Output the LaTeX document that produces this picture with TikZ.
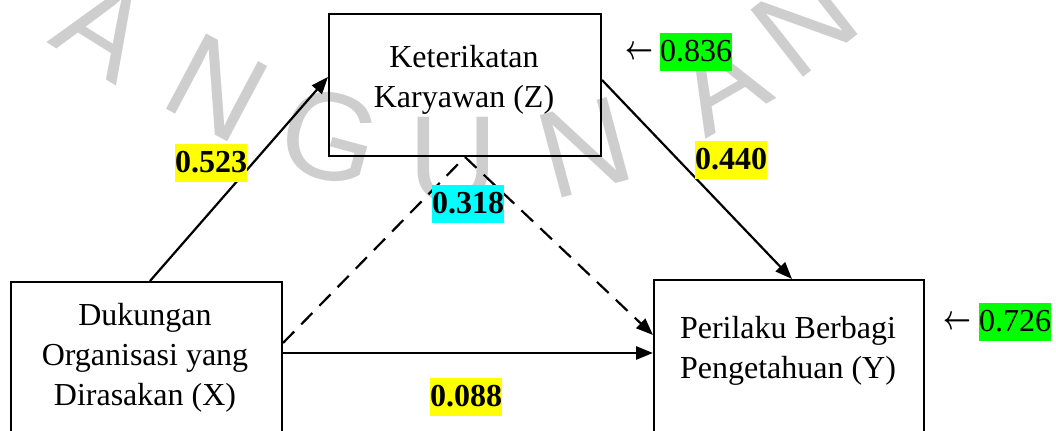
\documentclass[tikz,border=0pt]{standalone}
\usepackage{fontspec}
\setmainfont{Liberation Serif}
\newfontfamily\wmfont{Liberation Sans}
\usetikzlibrary{arrows.meta,calc}
\definecolor{hlyellow}{RGB}{255,255,0}
\definecolor{hlgreen}{RGB}{0,255,0}
\definecolor{hlcyan}{RGB}{0,255,255}
\definecolor{wmgray}{RGB}{206,206,206}
\begin{document}
\begin{tikzpicture}[x=0.5pt,y=-0.5pt,
  box/.style={draw,line width=1pt,inner sep=0pt,anchor=north west},
  vartext/.style={align=center,font=\fontsize{16pt}{20pt}\selectfont,inner sep=0pt},
  coef/.style={font=\fontsize{16pt}{20pt}\selectfont\bfseries,inner sep=0pt,text height=14.5pt,text depth=4.5pt},
  resid/.style={font=\fontsize{16pt}{20pt}\selectfont,inner sep=0pt,text height=14.5pt,text depth=4.5pt,fill=hlgreen},
  residarrow/.style={font=\fontsize{16pt}{16pt}\selectfont\boldmath,inner sep=0pt},
  effect/.style={line width=1.1pt,-{Triangle[length=8.5pt,width=6.5pt]}},
  indirect/.style={effect,dash pattern=on 8pt off 5pt},
  wm/.style={font=\wmfont\fontsize{62pt}{62pt}\selectfont,text=wmgray,inner sep=0pt}]
\useasboundingbox (0,0) rectangle (1056,431);
\clip (0,0) rectangle (1056,431);
% watermark
\node[wm,rotate=-32] (w1) at (104,28) {A};
\node[wm,rotate=-28] (w2) at (217,88) {N};
\node[wm,rotate=-15] (w3) at (330,137) {G};
\node[wm,rotate=0] (w4) at (453,160) {U};
\node[wm,rotate=15] (w5) at (585,148) {N};
\node[wm,rotate=30] (w6) at (720,82) {A};
\node[wm,rotate=38] (w7) at (805,22) {N};
% boxes
\node[box,minimum width=136pt,minimum height=71pt] (Z) at (328,13) {};
\node[box,minimum width=135.5pt,minimum height=95pt] (X) at (10,281) {};
\node[box,minimum width=135pt,minimum height=95pt] (Y) at (653,279) {};
% texts
\node[vartext] (Zt) at (464,80) {Keterikatan\\Karyawan (Z)};
\node[vartext] (Xt) at (145,358) {Dukungan\\Organisasi yang\\Dirasakan (X)};
\node[vartext] (Yt) at (788,351) {Perilaku Berbagi\\Pengetahuan (Y)};
% connectors
\draw[effect] ($(X.north west)+(140,0)$) -- ($(Z.north west)+(0,64)$);
\draw[effect] ($(Z.north east)+(0,67)$) -- ($(Y.north west)+(139,0)$);
\draw[indirect] ($(X.north east)+(0,62)$) -- (Z.south) -- ($(Y.north west)+(0,56)$);
\draw[effect,line width=1.4pt] ($(X.north east)+(0,72)$) -- ($(Y.north west)+(0,74)$);
% coefficients
\node[coef,fill=hlyellow] (c1) at (211,163) {0.523};
\node[coef,fill=hlyellow] (c2) at (731,160) {0.440};
\node[coef,fill=hlcyan] (c3) at (468,204) {0.318};
\node[coef,fill=hlyellow] (c4) at (466,397) {0.088};
\node[resid] (r1) at (696,52) {0.836};
\node[resid] (r2) at (1015,322) {0.726};
\node[residarrow] (a1) at (639,53) {\scalebox{0.7}[1]{$\leftarrow$}};
\node[residarrow] (a2) at (957,323) {\scalebox{0.7}[1]{$\leftarrow$}};
\end{tikzpicture}
\end{document}
